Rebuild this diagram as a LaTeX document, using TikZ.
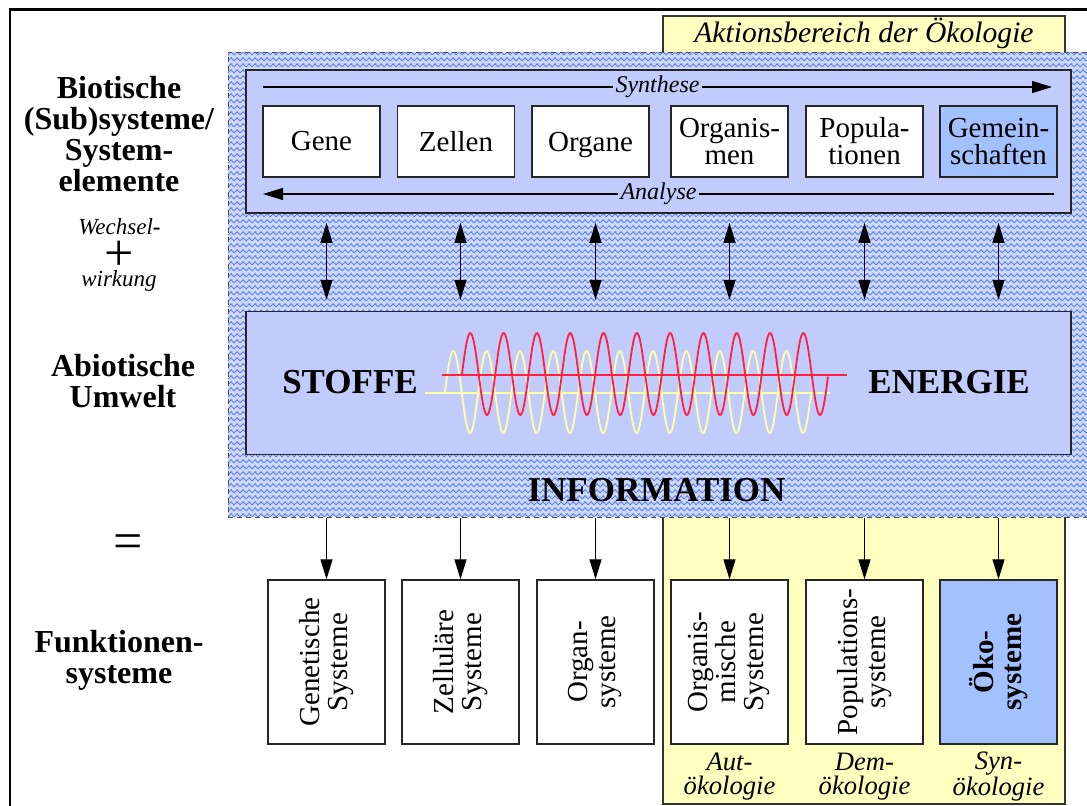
\documentclass[tikz,border=0pt]{standalone}
\usepackage{fontspec}
\setmainfont{Liberation Serif}
\usetikzlibrary{arrows.meta,patterns}
\definecolor{ebene}{RGB}{194,204,252}
\definecolor{gemein}{RGB}{163,193,255}
\definecolor{gelb}{RGB}{255,255,192}
\definecolor{netzhell}{RGB}{205,216,252}
\definecolor{netz}{RGB}{92,128,236}
\definecolor{welle}{RGB}{255,32,64}
\definecolor{wellegelb}{RGB}{255,255,170}
\begin{document}
\begin{tikzpicture}[x=0.5pt,y=-0.5pt,>={Triangle[length=10pt,width=6pt]}]
		\tikzstyle{bereich}=[draw=black!80,line width=0.75pt,fill=gelb,minimum width=201pt,minimum height=394pt]
		\tikzstyle{netzfeld}=[draw=black!70,line width=0.5pt,dash pattern=on 2.5pt off 2pt,preaction={fill=netzhell},pattern=crosshatch,pattern color=netz,minimum width=436pt,minimum height=232.5pt]
		\tikzstyle{ebenebox}=[draw=black!85,line width=0.75pt,fill=ebene,minimum width=412.5pt,minimum height=71.5pt]
		\tikzstyle{teilbox}=[draw=black!85,line width=0.75pt,fill=white,minimum width=58.5pt,minimum height=35.5pt,inner sep=0pt,align=center,font=\fontsize{14.5}{13.5}\selectfont]
		\tikzstyle{systembox}=[teilbox,rotate=90,minimum width=82pt,minimum height=58.5pt,font=\fontsize{14.5}{14}\selectfont]
		\tikzstyle{titel}=[align=center,font=\bfseries\fontsize{16}{15.5}\selectfont]
		\tikzstyle{gross}=[font=\bfseries\fontsize{17.5}{17.5}\selectfont]
		\tikzstyle{pfeil}=[fill=ebene,inner sep=1.5pt,font=\itshape\fontsize{12}{12}\selectfont]
		\tikzstyle{lehre}=[align=center,inner sep=0.5pt,font=\itshape\fontsize{13.3}{11.7}\selectfont]
		\tikzstyle{zeichen}=[inner sep=0pt,font=\fontsize{26}{26}\selectfont]

		\useasboundingbox (0,0) rectangle (1087,805);

		\node[bereich](aktion) at (864,410){};
		\node[font=\itshape\fontsize{14.8}{14.8}\selectfont](aktiontext) at (864,33.5){Aktionsbereich der Ökologie};

		\node[netzfeld](feld) at (664,284.5){};
		\node[ebenebox](obere) at (658.5,141.5){};
		\node[ebenebox](mitte) at (658.5,383){};

		\node[teilbox](gene) at (321.5,141.5){Gene};
		\node[teilbox](zellen) at (456,141.5){Zellen};
		\node[teilbox,text depth=0pt](organe) at (590.5,141.5){Organe};
		\node[teilbox](organismen) at (729.5,141.5){Organis-\\men};
		\node[teilbox](populationen) at (864.5,141.5){Popula-\\tionen};
		\node[teilbox,fill=gemein](gemeinschaften) at (998.5,141.5){Gemein-\\schaften};

		\coordinate (syn1) at (263,87);
		\coordinate (syn2) at (1052,87);
		\coordinate (ana1) at (1054,194);
		\coordinate (ana2) at (263,194);
		\draw[->,line width=0.6pt] (syn1) -- node[pfeil](syntext){Synthese} (syn2);
		\draw[->,line width=0.6pt] (ana1) -- node[pfeil](anatext){Analyse} (ana2);

		\node[systembox](gsys) at (326.5,662){Genetische\\Systeme};
		\node[systembox](zsys) at (460.5,662){Zelluläre\\Systeme};
		\node[systembox](osys) at (595.5,662){Organ-\\systeme};
		\node[systembox](orgsys) at (729.5,662){Organis-\\mische\\Systeme};
		\node[systembox](popsys) at (864.5,662){Populations-\\systeme};
		\node[systembox,fill=gemein,font=\bfseries\fontsize{14.5}{14}\selectfont](oekosys) at (998.5,662){Öko-\\systeme};

		\draw[<->,line width=0.6pt,shorten <=4.5pt,shorten >=5.5pt] (gsys |- obere.south) -- (gsys |- mitte.north);
		\draw[<->,line width=0.6pt,shorten <=4.5pt,shorten >=5.5pt] (zsys |- obere.south) -- (zsys |- mitte.north);
		\draw[<->,line width=0.6pt,shorten <=4.5pt,shorten >=5.5pt] (osys |- obere.south) -- (osys |- mitte.north);
		\draw[<->,line width=0.6pt,shorten <=4.5pt,shorten >=5.5pt] (orgsys |- obere.south) -- (orgsys |- mitte.north);
		\draw[<->,line width=0.6pt,shorten <=4.5pt,shorten >=5.5pt] (popsys |- obere.south) -- (popsys |- mitte.north);
		\draw[<->,line width=0.6pt,shorten <=4.5pt,shorten >=5.5pt] (oekosys |- obere.south) -- (oekosys |- mitte.north);

		\draw[->,line width=0.6pt] (gsys |- feld.south) -- (gsys);
		\draw[->,line width=0.6pt] (zsys |- feld.south) -- (zsys);
		\draw[->,line width=0.6pt] (osys |- feld.south) -- (osys);
		\draw[->,line width=0.6pt] (orgsys |- feld.south) -- (orgsys);
		\draw[->,line width=0.6pt] (popsys |- feld.south) -- (popsys);
		\draw[->,line width=0.6pt] (oekosys |- feld.south) -- (oekosys);

		\draw[wellegelb,line width=0.9pt] (425,393) -- (830,393);
		\draw[wellegelb,line width=0.9pt] plot[domain=445:811,samples=400] (\x,{392-41*sin((\x-445)*10.81)});
		\draw[welle,line width=0.9pt] (442,375) -- (847,375);
		\draw[welle,line width=0.9pt] plot[domain=462:828,samples=400] (\x,{374-41*sin((\x-462)*10.81)});

		\node[gross](stoffe) at (350,382){STOFFE};
		\node[gross](energie) at (949,382){ENERGIE};
		\node[gross](information) at (656.5,490){INFORMATION};

		\node[lehre](aut) at (729.5,776.5){Aut-\\ökologie};
		\node[lehre](dem) at (864.5,776.5){Dem-\\ökologie};
		\node[lehre](syn) at (998.5,776.5){Syn-\\ökologie};

		\node[titel](biotisch) at (119,134){Biotische\\(Sub)systeme/\\System-\\elemente};
		\node[inner sep=0pt,font=\fontsize{11.5}{11.5}\selectfont](wechsel) at (119.5,227){\textit{Wechsel}\textbf{-}};
		\node[zeichen](plus) at (119.5,256){+};
		\node[inner sep=0pt,font=\itshape\fontsize{11.5}{11.5}\selectfont](wirkung) at (119,281){wirkung};
		\node[titel](abiotisch) at (123,381){Abiotische\\Umwelt};
		\node[zeichen](gleich) at (128,547){=};
		\node[titel](funktion) at (119,660){Funktionen-\\systeme};

		\draw[line width=1.25pt] (10,830) -- (10,9.5) -- (1110,9.5);
	\end{tikzpicture}
\end{document}
